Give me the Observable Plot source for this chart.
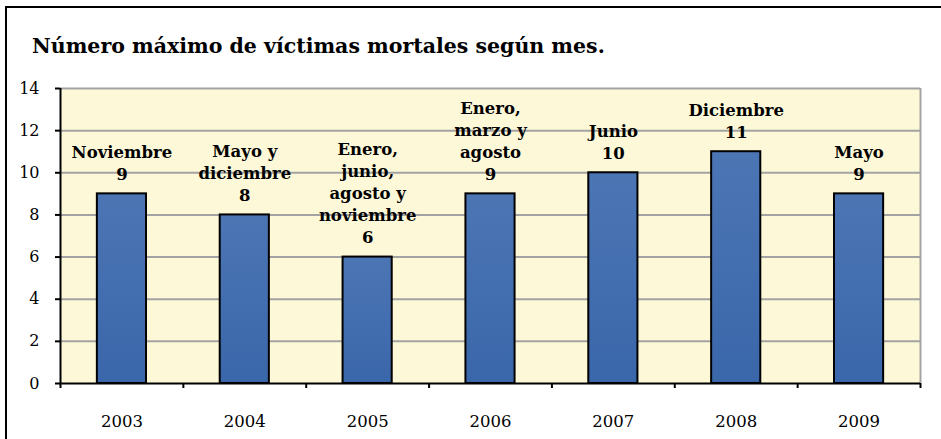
<!DOCTYPE html>
<html>
<head>
<meta charset="utf-8">
<script src="https://cdn.jsdelivr.net/npm/d3@7"></script>
<script src="https://cdn.jsdelivr.net/npm/@observablehq/plot@0.6"></script>
<style>
  html, body { margin: 0; padding: 0; background: #fff; }
  #wrap { position: relative; width: 941px; height: 439px; overflow: hidden; font-family: "DejaVu Serif", serif; }
  #border { position: absolute; left: 5px; top: 6px; width: 980px; height: 480px; border: 2px solid #000; box-sizing: border-box; }
  #title { position: absolute; left: 32px; top: 34px; font-size: 20.5px; font-weight: bold; color: #000; white-space: nowrap; }
  #chart { position: absolute; left: 0; top: 60px; }
</style>
</head>
<body>
<div id="wrap">
  <div id="border"></div>
  <div id="title">Número máximo de víctimas mortales según mes.</div>
  <div id="chart"></div>
</div>
<script>
const years = ["2003", "2004", "2005", "2006", "2007", "2008", "2009"];
const values = [9, 8, 6, 9, 10, 11, 9];
const months = [
  "Noviembre",
  "Mayo y\ndiciembre",
  "Enero,\njunio,\nagosto y\nnoviembre",
  "Enero,\nmarzo y\nagosto",
  "Junio",
  "Diciembre",
  "Mayo"
];
const yTicks = [0, 2, 4, 6, 8, 10, 12, 14];

const data = years.map((year, i) => ({i, year, value: values[i], month: months[i]}));

const plot = Plot.plot({
  width: 941,
  height: 379,
  marginTop: 28,
  marginBottom: 56,
  marginLeft: 60,
  marginRight: 21,
  style: {fontFamily: "DejaVu Serif, serif", fontSize: "16px", color: "#000", background: "transparent"},
  x: {domain: [0, years.length], axis: null},
  y: {domain: [0, 14], axis: null},
  marks: [
    Plot.frame({fill: "#FDF8D8", stroke: null}),
    Plot.ruleY(yTicks.filter(t => t > 0), {stroke: "#A3A3A3", strokeWidth: 2}),
    Plot.ruleX([years.length], {stroke: "#A3A3A3", strokeWidth: 2}),
    Plot.rectY(data, {
      x1: d => d.i + 0.3,
      x2: d => d.i + 0.7,
      y1: 0,
      y2: "value",
      fill: "url(#barGrad)",
      stroke: "#000",
      strokeWidth: 2
    }),
    Plot.text(data, {
      x: d => d.i + 0.5,
      y: "value",
      text: d => d.month + "\n" + d.value,
      lineAnchor: "bottom",
      dy: -14,
      fontWeight: "bold",
      fontSize: 16.5,
      lineHeight: 1.33,
      fill: "#000"
    }),
    Plot.axisY({ticks: yTicks, label: null, tickSize: 5, tickPadding: 16, fontSize: 16, strokeWidth: 2, stroke: "#000", tickFormat: d => String(d)}),
    Plot.ruleX([0], {stroke: "#000", strokeWidth: 2}),
    Plot.axisX({ticks: d3.range(years.length + 1), label: null, tickSize: 5, tickFormat: () => "", strokeWidth: 2, stroke: "#000"}),
    Plot.axisX({ticks: years.map((y, i) => i + 0.5), label: null, tickSize: 0, tickPadding: 32, fontSize: 16.5, tickFormat: v => years[Math.floor(v)]}),
    Plot.ruleY([0], {stroke: "#000", strokeWidth: 2})
  ]
});

// gradient for the bars
const ns = "http://www.w3.org/2000/svg";
const defs = document.createElementNS(ns, "defs");
const grad = document.createElementNS(ns, "linearGradient");
grad.setAttribute("id", "barGrad");
grad.setAttribute("x1", "0"); grad.setAttribute("y1", "0");
grad.setAttribute("x2", "0"); grad.setAttribute("y2", "1");
[["0%", "#4C75B4"], ["100%", "#3A67AA"]].forEach(([o, c]) => {
  const s = document.createElementNS(ns, "stop");
  s.setAttribute("offset", o);
  s.setAttribute("stop-color", c);
  grad.appendChild(s);
});
defs.appendChild(grad);
plot.insertBefore(defs, plot.firstChild);

document.getElementById("chart").appendChild(plot);
</script>
</body>
</html>
